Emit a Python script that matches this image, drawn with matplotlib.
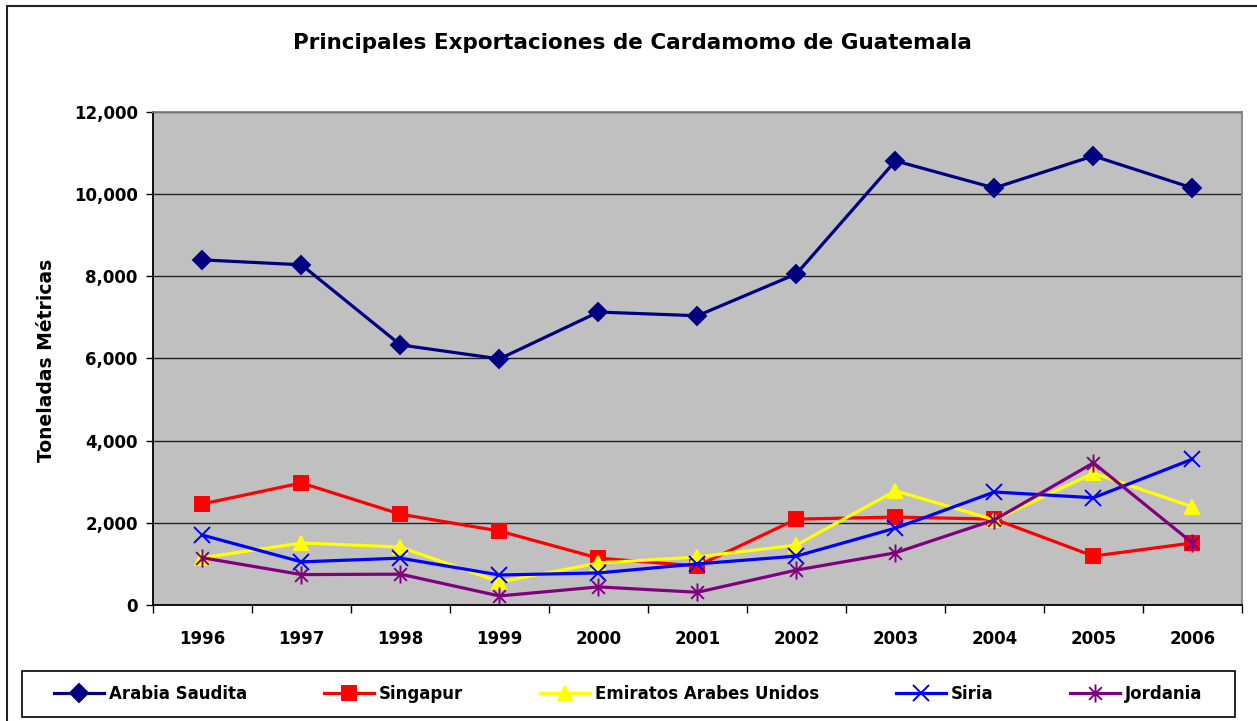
import numpy as np
from matplotlib import pyplot as plt
from matplotlib.path import Path
from matplotlib.patches import Rectangle

plt.rcParams['font.family'] = ['DejaVu Sans']
plt.rcParams['font.weight'] = 'bold'

years = ['1996', '1997', '1998', '1999', '2000', '2001', '2002', '2003', '2004', '2005', '2006']

arabia = [8400, 8280, 6330, 5990, 7130, 7040, 8060, 10810, 10150, 10930, 10150]
singapur = [2460, 2970, 2210, 1800, 1140, 950, 2090, 2140, 2090, 1190, 1510]
emiratos = [1150, 1510, 1410, 560, 1020, 1170, 1460, 2780, 2070, 3210, 2390]
siria = [1700, 1050, 1140, 730, 780, 1000, 1190, 1870, 2750, 2610, 3550]
jordania = [1150, 740, 750, 220, 440, 310, 850, 1270, 2070, 3460, 1510]

# Excel style asterisk: an x with a vertical bar
d = 0.707
star = Path([(-d, -d), (d, d), (-d, d), (d, -d), (0, -1), (0, 1)],
            [Path.MOVETO, Path.LINETO, Path.MOVETO, Path.LINETO, Path.MOVETO, Path.LINETO])

series = [
    ('Arabia Saudita', arabia, '#000080', 'D', 9.5),
    ('Singapur', singapur, '#FF0000', 's', 9.5),
    ('Emiratos Arabes Unidos', emiratos, '#FFFF00', '^', 10.5),
    ('Siria', siria, '#0000FF', 'x', 11.5),
    ('Jordania', jordania, '#800080', star, 13),
]

fig = plt.figure(figsize=(12.57, 7.21), dpi=100)
# chart-area border (only its top and left edges fall inside the image)
fig.patches.append(Rectangle((0.0056, -0.05), 1.1, 1.0417, transform=fig.transFigure,
                             fill=False, edgecolor='#222222', linewidth=1.5))
ax = fig.add_axes([0.1217, 0.1609, 0.8663, 0.6838])
ax.set_facecolor('#C0C0C0')

x = np.arange(len(years))
for name, vals, col, mk, ms in series:
    ax.plot(x, vals, color=col, lw=2.3, marker=mk, markersize=ms,
            markeredgewidth=1.4, markeredgecolor=col, markerfacecolor=col, label=name)

ax.set_xlim(-0.5, len(years) - 0.5)
ax.set_ylim(0, 12000)
ax.set_yticks(np.arange(0, 12001, 2000))
ax.set_yticklabels(['{:,}'.format(v) for v in range(0, 12001, 2000)], fontsize=12)
ax.set_xticks(x)
ax.set_xticklabels(years, fontsize=12)
ax.set_xticks(np.arange(-0.5, len(years), 1), minor=True)
ax.tick_params(axis='x', which='major', length=0, pad=18)
ax.tick_params(axis='x', which='minor', length=6, width=1, direction='out')
ax.tick_params(axis='y', length=5, width=1, pad=6)
ax.yaxis.grid(True, color='#222222', lw=1)
ax.set_axisbelow(True)
for s in ['left', 'bottom']:
    ax.spines[s].set_color('black')
    ax.spines[s].set_linewidth(1.3)
for s in ['top', 'right']:
    ax.spines[s].set_color('#808080')
    ax.spines[s].set_linewidth(1.3)

fig.text(0.503, 0.940, 'Principales Exportaciones de Cardamomo de Guatemala',
         ha='center', va='center', fontsize=15.5, fontweight='bold')
fig.text(0.037, 0.50, 'Toneladas Métricas', rotation=90, ha='center', va='center',
         fontsize=13.5, fontweight='bold')

# legend box drawn by hand, entries centred inside it
fig.patches.append(Rectangle((0.0175, 0.0055), 0.9650, 0.0635, transform=fig.transFigure,
                             fill=False, edgecolor='black', linewidth=1.2))
leg = fig.legend(loc='center', ncol=5, fontsize=12,
                 bbox_to_anchor=(0.500, 0.0375), bbox_transform=fig.transFigure,
                 frameon=False, handlelength=3, handletextpad=0.3,
                 columnspacing=4.6, borderaxespad=0)

plt.savefig('out.png', dpi=100)
